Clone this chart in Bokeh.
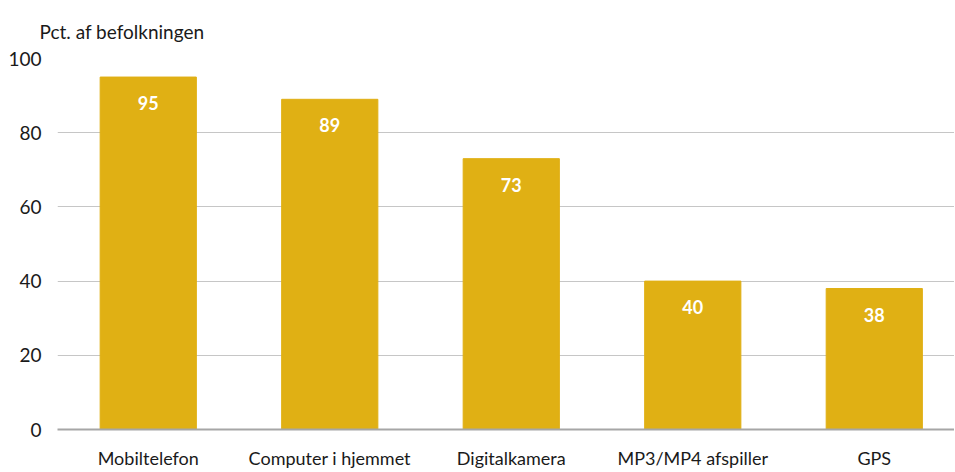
from bokeh.plotting import figure
from bokeh.models import ColumnDataSource, FixedTicker, Range1d, Title
from bokeh.core.properties import value
from bokeh.embed import file_html
from bokeh.resources import INLINE

categories = ["Mobiltelefon", "Computer i hjemmet", "Digitalkamera", "MP3/MP4 afspiller", "GPS"]
values = [95, 89, 73, 40, 38]
y_ticks = [0, 20, 40, 60, 80, 100]
unit_label = "Pct. af befolkningen"

FONT = "Lato"
BAR = "#E0B014"

xs = list(range(len(categories)))
src = ColumnDataSource(dict(x=xs, top=values, lab=[str(v) for v in values]))

p = figure(width=954, height=471, output_backend="svg", toolbar_location=None,
           x_range=Range1d(-0.5, 4.442), y_range=Range1d(0, 100),
           min_border_left=57, min_border_right=0, min_border_top=58, min_border_bottom=42)
p.outline_line_color = None
p.background_fill_color = "white"
p.border_fill_color = "white"

p.vbar(x="x", top="top", bottom=0, width=0.53, color=BAR, source=src)
p.text(x="x", y="top", text="lab", source=src, text_color="white", text_font=value(FONT),
       text_font_style="bold", text_font_size="18px", text_align="center",
       text_baseline="middle", y_offset=26)

p.xgrid.grid_line_color = None
p.ygrid.grid_line_color = "#C6C6C6"
p.ygrid.grid_line_width = 1
p.ygrid.ticker = FixedTicker(ticks=y_ticks)

p.yaxis.ticker = FixedTicker(ticks=y_ticks)
p.yaxis.axis_line_color = None
p.yaxis.major_tick_line_color = None
p.yaxis.minor_tick_line_color = None
p.yaxis.major_tick_out = 0
p.yaxis.major_tick_in = 0
p.yaxis.minor_tick_out = 0
p.yaxis.major_label_standoff = 16
p.yaxis.major_label_text_font = FONT
p.yaxis.major_label_text_font_size = "19px"
p.yaxis.major_label_text_color = "#1a1a1a"

p.xaxis.ticker = FixedTicker(ticks=xs)
p.xaxis.major_label_overrides = {i: c for i, c in enumerate(categories)}
p.xaxis.axis_line_color = "#A6A6A6"
p.xaxis.axis_line_width = 2
p.xaxis.major_tick_line_color = None
p.xaxis.minor_tick_line_color = None
p.xaxis.major_tick_out = 0
p.xaxis.major_tick_in = 0
p.xaxis.minor_tick_out = 0
p.xaxis.major_label_standoff = 17
p.xaxis.major_label_text_font = FONT
p.xaxis.major_label_text_font_size = "18px"
p.xaxis.major_label_text_color = "#1a1a1a"

t = Title(text=unit_label, align="left", offset=-18, text_font=FONT,
          text_font_size="19px", text_font_style="normal", text_color="#1a1a1a",
          standoff=31)
p.add_layout(t, "above")

open("out.html", "w").write(file_html(p, INLINE))
